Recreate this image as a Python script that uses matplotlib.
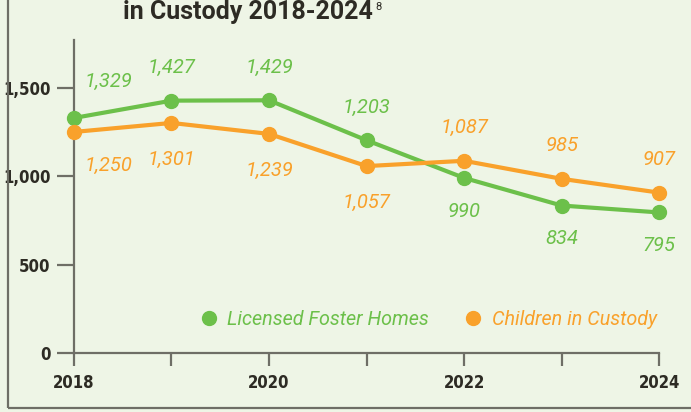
import matplotlib.pyplot as plt
from matplotlib.patches import Rectangle
from matplotlib.lines import Line2D

years = [2018, 2019, 2020, 2021, 2022, 2023, 2024]
foster_homes = [1329, 1427, 1429, 1203, 990, 834, 795]
children = [1250, 1301, 1239, 1057, 1087, 985, 907]
y_ticks = [0, 500, 1000, 1500]
x_ticks = [2018, 2020, 2022, 2024]

# label offsets in points (dx, dy)
green_off = [(25, 26), (0, 24), (0, 24), (0, 24), (0, -24), (0, -24), (0, -24)]
orange_off = [(25, -24), (0, -26), (0, -26), (0, -26), (0, 24), (0, 24), (0, 24)]

bg = "#eef5e6"
green = "#6cc04a"
orange = "#f9a12b"
dark = "#2d2b24"
spine = "#6e6e66"

fig = plt.figure(figsize=(6.91, 4.12), dpi=100, facecolor=bg)
ax = fig.add_axes([0.107, 0.143, 0.847, 0.76])
ax.set_facecolor(bg)

# outer frame (cut at top and right)
fig.patches.append(Rectangle((8 / 691, 4 / 412), 1.2, 1.2, transform=fig.transFigure,
                             fill=False, edgecolor=spine, linewidth=1.6))

ax.plot(years, foster_homes, color=green, lw=3, marker="o", ms=10, clip_on=False, zorder=3)
ax.plot(years, children, color=orange, lw=3, marker="o", ms=10, clip_on=False, zorder=3)

lab_font = dict(family=["Roboto", "DejaVu Sans"], style="italic", fontsize=14.5)
for x, v, off in zip(years, foster_homes, green_off):
    ax.annotate(f"{v:,}", (x, v), xytext=off, textcoords="offset points",
                ha="center", va="center", color=green, **lab_font)
for x, v, off in zip(years, children, orange_off):
    ax.annotate(f"{v:,}", (x, v), xytext=off, textcoords="offset points",
                ha="center", va="center", color=orange, **lab_font)

ax.set_xlim(2018, 2024)
ax.set_ylim(0, 1770)
ax.set_xticks(years)
ax.set_xticklabels([str(y) if y in x_ticks else "" for y in years])
ax.set_yticks(y_ticks)
ax.set_yticklabels([f"{v:,}" for v in y_ticks])

for s in ["top", "right"]:
    ax.spines[s].set_visible(False)
for s in ["left", "bottom"]:
    ax.spines[s].set_color(spine)
    ax.spines[s].set_linewidth(1.6)

ax.tick_params(axis="y", length=12, width=1.6, color=spine, pad=5, labelcolor=dark)
ax.tick_params(axis="x", length=9, width=1.6, color=spine, pad=6, labelcolor=dark)
for t in ax.get_xticklabels() + ax.get_yticklabels():
    t.set_family("DejaVu Sans")
    t.set_stretch("condensed")
    t.set_fontweight("bold")
    t.set_fontsize(12)

handles = [Line2D([], [], ls="", marker="o", ms=10, color=green),
           Line2D([], [], ls="", marker="o", ms=10, color=orange)]
leg = ax.legend(handles, ["Licensed Foster Homes", "Children in Custody"], ncol=2,
                frameon=False, loc="lower right", bbox_to_anchor=(1.027, 0.02),
                handletextpad=0.45, columnspacing=1.75, handlelength=1.0,
                prop=dict(family="Roboto", style="italic", size=14.2))
for txt, c in zip(leg.get_texts(), [green, orange]):
    txt.set_color(c)

title = fig.text(123 / 691, 1 - 19 / 412, "in Custody 2018-2024", ha="left", va="baseline",
                 fontsize=18, fontweight="bold", family="Roboto", color=dark)
fig.canvas.draw()
bb = title.get_window_extent()
fig.text((bb.x1 + 2) / 691, 1 - 10 / 412, "8", ha="left", va="baseline",
         fontsize=8, family="Roboto", color=dark)

fig.savefig("out.png", dpi=100, facecolor=bg)
